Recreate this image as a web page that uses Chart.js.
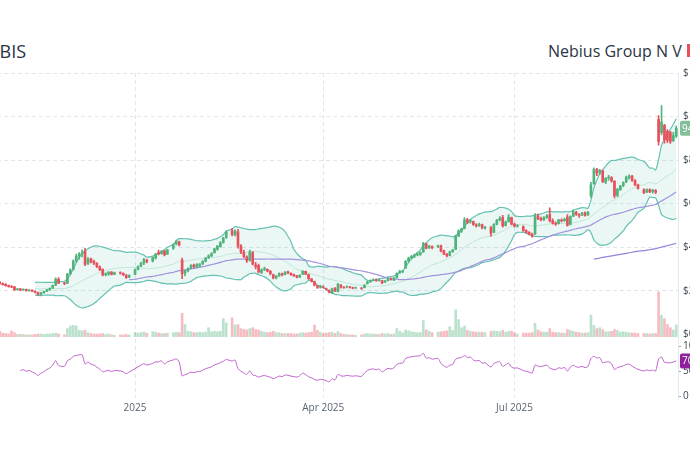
<!DOCTYPE html>
<html>
<head>
<meta charset="utf-8">
<script src="https://cdn.jsdelivr.net/npm/chart.js@4.4.1/dist/chart.umd.min.js"></script>
<style>
  html, body { margin: 0; padding: 0; width: 690px; height: 450px; overflow: hidden; background: #fff; font-family: 'Open Sans', sans-serif; }
  #wrap { position: absolute; left: -17px; top: 62px; width: 737px; height: 360px; }
  .t { position: absolute; white-space: nowrap; line-height: 1; color: #2a3444; }
</style>
</head>
<body>
<div class="t" style="left:-14px; top:42px; font-size:18px;">NBIS</div>
<div class="t" style="left:548px; top:43px; font-size:16px;">Nebius Group N V</div>
<div class="t" style="left:687px; top:44px; font-size:11px; background:#e8505b; color:#fff; padding:1px 3px;">-1.2%</div>
<div id="wrap"><canvas id="c" width="737" height="360"></canvas></div>
<script>
// trading days, grouped by month
const monthKeys = ['2024-10', '2024-11', '2024-12', '2025-01', '2025-02', '2025-03', '2025-04', '2025-05', '2025-06', '2025-07', '2025-08', '2025-09'];
const monthDays = [
    [21, 22, 23, 24, 25, 28, 29, 30, 31],
    [1, 4, 5, 6, 7, 8, 11, 12, 13, 14, 15, 18, 19, 20, 21, 22, 25, 26, 27, 29],
    [2, 3, 4, 5, 6, 9, 10, 11, 12, 13, 16, 17, 18, 19, 20, 23, 24, 26, 27, 30, 31],
    [2, 3, 6, 7, 8, 10, 13, 14, 15, 16, 17, 21, 22, 23, 24, 27, 28, 29, 30, 31],
    [3, 4, 5, 6, 7, 10, 11, 12, 13, 14, 18, 19, 20, 21, 24, 25, 26, 27, 28],
    [3, 4, 5, 6, 7, 10, 11, 12, 13, 14, 17, 18, 19, 20, 21, 24, 25, 26, 27, 28, 31],
    [1, 2, 3, 4, 7, 8, 9, 10, 11, 14, 15, 16, 17, 21, 22, 23, 24, 25, 28, 29, 30],
    [1, 2, 5, 6, 7, 8, 9, 12, 13, 14, 15, 16, 19, 20, 21, 22, 23, 27, 28, 29, 30],
    [2, 3, 4, 5, 6, 9, 10, 11, 12, 13, 16, 17, 18, 20, 23, 24, 25, 26, 27, 30],
    [1, 2, 3, 7, 8, 9, 10, 11, 14, 15, 16, 17, 18, 21, 22, 23, 24, 25, 28, 29, 30, 31],
    [1, 4, 5, 6, 7, 8, 11, 12, 13, 14, 15, 18, 19, 20, 21, 22, 25, 26, 27, 28, 29],
    [2, 3, 4, 5, 8, 9, 10, 11, 12, 15, 16, 17]
];

const opens = [
    20.5, 20.0, 19.2, 18.9, 19.9, 21.2, 22.8, 23.9, 23.3,
    22.9, 22.3, 21.9, 21.8, 20.5, 20.8, 20.3, 20.6, 20.0, 20.3, 19.7, 19.1, 18.3, 19.0, 19.7, 20.4, 21.2, 22.5, 25.2, 23.5,
    23.4, 27.8, 29.8, 33.8, 36.0, 37.0, 38.2, 32.5, 34.6, 33.5, 32.6, 31.0, 29.8, 27.3, 27.6, 28.5, 27.5, 28.3, 28.0, 27.2, 26.2,
    27.5, 29.8, 31.2, 32.8, 34.0, 33.5, 35.0, 37.5, 37.0, 38.2, 36.8, 39.5, 41.5, 42.4, 34.0, 28.0, 29.2, 30.4, 31.8, 31.0,
    31.6, 32.4, 33.5, 35.2, 36.0, 37.5, 39.0, 40.2, 42.2, 44.5, 47.5, 45.6, 47.0, 40.5, 37.6, 35.4, 34.0, 37.5, 31.8,
    31.5, 28.4, 29.8, 29.8, 29.0, 27.4, 25.8, 26.8, 27.8, 27.4, 28.6, 28.0, 27.4, 26.8, 26.2, 27.6, 28.9, 27.4, 25.4, 24.2, 22.2,
    21.6, 21.8, 21.0, 20.2, 18.8, 21.2, 19.6, 22.6, 21.5, 21.8, 21.8, 21.4, 21.2, 21.2, 21.4, 23.2, 24.0, 24.9, 25.0, 24.6, 24.6,
    23.9, 24.6, 25.4, 24.8, 26.0, 28.2, 28.8, 30.5, 33.6, 35.0, 35.8, 36.4, 36.6, 37.8, 41.5, 39.6, 40.2, 40.2, 40.6, 38.4, 36.8,
    36.2, 37.9, 39.0, 45.2, 47.4, 48.6, 52.6, 51.6, 51.8, 50.2, 50.0, 50.4, 48.8, 49.2, 46.8, 50.6, 52.4, 53.6, 50.0, 51.8,
    53.6, 50.6, 49.6, 49.5, 47.6, 46.8, 46.0, 46.0, 54.4, 53.2, 52.6, 53.6, 55.0, 52.2, 51.0, 50.8, 52.4, 52.2, 53.8, 50.4, 54.2, 56.0,
    54.8, 54.8, 55.8, 54.8, 63.5, 69.2, 75.8, 74.2, 75.0, 70.0, 71.8, 72.0, 70.2, 63.8, 66.4, 68.2, 70.0, 72.0, 72.6, 70.6, 68.6,
    66.4, 65.2, 66.4, 65.6, 66.0, 98.6, 92.6, 96.0, 93.2, 92.6, 89.0, 91.0
];
const highs = [
    21.0, 20.4, 19.6, 20.0, 21.3, 22.8, 24.2, 24.3, 23.6,
    23.2, 22.6, 22.3, 22.0, 21.0, 21.0, 20.9, 20.7, 20.5, 20.4, 19.9, 19.3, 19.2, 19.8, 20.6, 21.3, 22.6, 25.9, 26.0, 24.0,
    28.0, 30.0, 34.2, 36.8, 37.5, 38.8, 39.4, 35.2, 35.0, 34.0, 32.9, 31.4, 30.0, 28.2, 28.8, 28.8, 28.5, 28.6, 28.2, 27.4, 27.3,
    30.0, 31.4, 33.0, 34.8, 34.5, 35.5, 37.2, 38.6, 38.4, 38.5, 39.0, 41.5, 43.2, 42.8, 35.0, 29.5, 30.5, 32.0, 32.2, 32.4,
    32.5, 33.8, 35.2, 36.5, 37.5, 39.5, 40.8, 42.5, 44.5, 47.5, 48.6, 48.0, 48.2, 41.2, 38.6, 36.0, 38.6, 37.9, 33.0,
    32.2, 30.0, 30.8, 30.0, 29.2, 27.6, 27.0, 28.2, 28.1, 28.8, 29.0, 28.2, 27.6, 27.0, 27.4, 29.2, 29.0, 27.6, 25.6, 24.4, 22.4,
    22.4, 22.2, 21.2, 20.4, 21.2, 21.4, 23.4, 22.8, 21.9, 22.2, 22.0, 21.6, 21.6, 21.4, 22.8, 24.4, 25.0, 25.4, 25.4, 25.2, 24.8,
    24.8, 25.8, 25.8, 26.0, 28.2, 29.3, 29.4, 33.8, 35.4, 36.2, 36.8, 37.4, 37.8, 42.2, 41.8, 40.8, 40.6, 41.0, 41.0, 38.6, 37.2,
    38.2, 39.0, 45.5, 48.0, 48.8, 53.6, 53.2, 52.8, 52.0, 50.8, 51.0, 50.6, 49.6, 49.4, 50.8, 52.8, 54.0, 54.6, 52.0, 55.0,
    53.8, 51.0, 50.4, 49.8, 48.0, 47.2, 46.4, 55.4, 55.2, 53.8, 54.0, 55.0, 58.0, 53.0, 51.6, 52.8, 53.0, 53.4, 55.0, 54.4, 57.0, 56.4,
    55.4, 56.0, 56.2, 56.4, 69.8, 76.4, 76.2, 75.8, 75.4, 72.0, 73.0, 72.4, 70.6, 67.0, 68.4, 70.0, 72.6, 73.2, 73.0, 71.0, 69.0,
    66.8, 66.8, 66.8, 66.6, 66.4, 100.4, 105.0, 96.4, 94.0, 93.2, 92.8, 95.6
];
const lows = [
    19.6, 18.9, 18.4, 18.7, 19.7, 21.0, 22.5, 23.0, 22.5,
    22.1, 21.6, 21.4, 20.1, 20.2, 20.0, 20.1, 19.8, 19.8, 19.5, 19.0, 17.9, 18.1, 18.8, 19.5, 20.2, 21.0, 22.3, 23.2, 22.8,
    23.2, 27.2, 29.5, 33.0, 34.5, 35.5, 31.5, 32.0, 32.8, 32.0, 30.6, 29.2, 26.8, 26.8, 27.0, 27.2, 27.3, 27.6, 26.9, 25.6, 26.0,
    27.2, 29.5, 31.0, 32.0, 32.8, 33.2, 34.5, 36.4, 36.8, 36.0, 36.6, 39.0, 41.0, 40.6, 25.5, 26.8, 28.6, 30.0, 30.5, 30.6,
    30.8, 32.0, 33.2, 34.8, 35.6, 37.2, 38.6, 40.0, 41.8, 44.0, 45.2, 45.2, 39.5, 37.0, 35.2, 33.0, 33.6, 31.8, 30.0,
    28.2, 27.8, 29.2, 28.6, 27.2, 25.4, 25.4, 26.5, 26.8, 27.2, 27.8, 27.0, 26.5, 25.9, 26.0, 27.4, 27.3, 25.2, 24.0, 22.2, 21.0,
    21.2, 21.2, 20.2, 19.0, 18.6, 19.6, 19.4, 21.2, 21.0, 21.3, 21.2, 20.8, 21.0, 20.6, 21.3, 23.0, 23.8, 24.5, 24.2, 24.4, 23.2,
    23.8, 24.5, 24.8, 24.6, 25.9, 28.0, 28.3, 30.2, 33.2, 34.6, 35.2, 36.0, 36.2, 37.6, 39.2, 39.4, 39.2, 39.8, 37.8, 36.5, 35.5,
    36.0, 37.6, 38.8, 44.8, 46.8, 48.4, 50.8, 51.0, 50.0, 49.2, 49.5, 48.4, 48.2, 45.0, 46.6, 50.2, 52.0, 49.2, 49.6, 51.5,
    50.2, 49.2, 49.2, 47.2, 46.4, 45.6, 44.6, 45.8, 52.6, 52.0, 52.2, 53.2, 51.6, 50.6, 50.0, 50.6, 51.6, 51.8, 49.6, 50.2, 54.0, 54.6,
    53.6, 54.4, 54.2, 54.6, 62.8, 68.8, 72.8, 73.4, 69.6, 69.2, 70.8, 69.8, 62.6, 63.2, 66.0, 67.8, 69.6, 71.2, 70.2, 68.2, 66.6,
    64.6, 65.0, 65.0, 64.8, 64.6, 86.8, 91.6, 87.8, 88.0, 87.6, 88.4, 90.4
];
const closes = [
    20.0, 19.2, 18.8, 19.8, 21.0, 22.6, 23.9, 23.3, 22.8,
    22.3, 21.8, 21.6, 20.4, 20.8, 20.2, 20.6, 20.0, 20.3, 19.7, 19.2, 18.3, 19.0, 19.6, 20.4, 21.0, 22.4, 25.3, 23.5, 23.2,
    27.6, 29.6, 33.6, 35.8, 36.8, 37.4, 32.2, 34.6, 33.2, 32.6, 31.0, 29.6, 27.2, 27.8, 28.5, 27.5, 28.3, 28.0, 27.3, 26.0, 27.0,
    29.6, 31.0, 32.6, 34.2, 33.4, 35.2, 36.8, 36.9, 38.0, 36.4, 38.7, 41.2, 42.6, 41.0, 27.8, 29.0, 30.2, 31.6, 31.0, 32.0,
    32.2, 33.5, 35.0, 36.0, 37.0, 39.2, 40.5, 42.0, 44.0, 46.8, 45.8, 47.4, 40.6, 37.8, 35.6, 33.8, 37.8, 32.2, 31.0,
    28.6, 29.6, 30.2, 29.0, 27.8, 25.8, 26.6, 27.9, 27.2, 28.5, 28.2, 27.3, 26.8, 26.2, 27.1, 28.9, 27.6, 25.5, 24.3, 22.5, 21.5,
    22.0, 21.6, 20.5, 19.3, 20.8, 19.8, 23.0, 21.6, 21.4, 21.8, 21.5, 21.2, 21.4, 21.0, 22.6, 24.0, 24.8, 25.0, 24.6, 25.0, 23.6,
    24.5, 25.5, 25.2, 25.8, 28.0, 28.8, 29.0, 33.5, 35.0, 35.8, 36.5, 37.0, 37.5, 41.6, 39.5, 40.5, 39.8, 40.6, 38.2, 36.8, 36.0,
    37.8, 38.6, 45.0, 47.5, 48.4, 52.5, 51.4, 52.2, 50.4, 49.8, 50.4, 48.8, 49.2, 46.4, 50.5, 52.4, 53.2, 49.8, 51.6, 53.8,
    50.6, 49.6, 49.9, 47.6, 46.8, 46.0, 45.2, 54.0, 53.0, 52.6, 53.6, 54.4, 52.0, 51.0, 50.6, 52.5, 52.0, 52.8, 50.0, 54.0, 56.2, 55.0,
    54.6, 55.6, 54.6, 56.0, 68.6, 75.6, 74.0, 75.2, 70.2, 71.6, 72.2, 70.4, 63.6, 66.6, 68.0, 69.6, 72.2, 72.6, 70.6, 68.6, 67.0,
    65.0, 66.4, 65.4, 66.2, 65.2, 88.6, 97.4, 89.4, 89.0, 88.6, 91.2, 94.6
];
// volume, millions of shares
const volumes = [
    30, 15, 10, 9, 12, 14, 27, 12, 8,
    7, 6, 13, 9, 5, 5, 5, 4, 4, 4, 5, 6, 6, 5, 6, 6, 7, 8, 6, 4,
    18, 24, 25, 24, 14, 13, 14, 9, 7, 6, 6, 6, 7, 5, 6, 4, 3, 4, 4, 5, 4,
    9, 8, 9, 10, 8, 11, 10, 8, 7, 7, 8, 9, 10, 9, 52, 27, 12, 11, 9, 9,
    10, 9, 10, 20, 11, 12, 11, 12, 40, 31, 42, 26, 27, 18, 16, 15, 18, 20, 16,
    15, 12, 10, 9, 10, 12, 9, 9, 7, 7, 7, 7, 6, 6, 8, 9, 8, 9, 10, 26, 14,
    10, 7, 8, 9, 10, 7, 11, 7, 5, 5, 4, 4, 3, 4, 6, 7, 6, 6, 5, 5, 7,
    6, 7, 5, 6, 18, 12, 9, 15, 13, 11, 10, 9, 9, 36, 15, 12, 9, 10, 11, 12, 13,
    22, 14, 60, 38, 20, 24, 14, 12, 11, 10, 10, 10, 9, 12, 13, 12, 11, 14, 10, 12,
    12, 9, 6, 8, 8, 8, 9, 30, 15, 11, 10, 10, 18, 10, 9, 9, 8, 8, 16, 14, 12, 10,
    9, 8, 8, 9, 48, 25, 18, 20, 16, 11, 11, 12, 16, 14, 10, 11, 10, 9, 8, 8, 7,
    7, 7, 6, 7, 7, 100, 48, 40, 27, 20, 15, 26
];

// x axis counts weekdays from 1 Jan 2025 (weekends left out)
const tickDays = [0, 64, 129];
const tickLabels = ['2025', 'Apr 2025', 'Jul 2025'];
const priceTicks = [0, 20, 40, 60, 80, 100, 120];
const rsiTicks = [0, 30, 50, 70, 100];
const barShift = 1; // on this chart each bar sits one weekday left of its date

const upColor = '#4fb37b';
const downColor = '#e8505b';
const gridColor = '#dfe6ee';

const dates = [];
monthKeys.forEach((m, i) => monthDays[i].forEach(d => dates.push(m + '-' + String(d).padStart(2, '0'))));
const origin = Date.UTC(2025, 0, 1);
function weekdayIndex(s) {
    const p = s.split('-').map(Number);
    const days = Math.round((Date.UTC(p[0], p[1] - 1, p[2]) - origin) / 864e5);
    const dir = days >= 0 ? 1 : -1;
    let n = 0;
    for (let k = 0; k !== days; k += dir) {
        const dow = new Date(origin + (dir > 0 ? k : k - 1) * 864e5).getUTCDay();
        if (dow !== 0 && dow !== 6) n += dir;
    }
    return n;
}
const xs = dates.map(s => weekdayIndex(s) - barShift);

// indicators
function sma(arr, n) {
    return arr.map((_, i) => i < n - 1 ? null : arr.slice(i - n + 1, i + 1).reduce((a, b) => a + b, 0) / n);
}
function bands(arr, n, k) {
    const mid = sma(arr, n);
    const up = [], lo = [];
    arr.forEach((_, i) => {
        if (mid[i] === null) { up.push(null); lo.push(null); return; }
        const sd = Math.sqrt(arr.slice(i - n + 1, i + 1).reduce((a, b) => a + (b - mid[i]) * (b - mid[i]), 0) / n);
        up.push(mid[i] + k * sd);
        lo.push(mid[i] - k * sd);
    });
    return { mid, up, lo };
}
function rsi(arr, n) {
    const out = arr.map(() => null);
    let g = 0, l = 0;
    for (let i = 1; i <= n; i++) {
        const d = arr[i] - arr[i - 1];
        if (d > 0) g += d; else l -= d;
    }
    g /= n; l /= n;
    out[n] = 100 - 100 / (1 + g / l);
    for (let i = n + 1; i < arr.length; i++) {
        const d = arr[i] - arr[i - 1];
        g = (g * (n - 1) + Math.max(d, 0)) / n;
        l = (l * (n - 1) + Math.max(-d, 0)) / n;
        out[i] = 100 - 100 / (1 + g / l);
    }
    return out;
}
const pts = arr => arr.map((v, i) => v === null ? null : { x: xs[i], y: v }).filter(Boolean);

const bb = bands(closes, 20, 2);
const sma50 = sma(closes, 50);
const sma200 = sma(closes, 200);
const rsi14 = rsi(closes, 14);
const candleColors = closes.map((c, i) => c >= opens[i] ? upColor : downColor);
const volColors = closes.map((c, i) => c >= opens[i] ? 'rgba(79,179,123,0.38)' : 'rgba(232,80,91,0.38)');

const lastClose = closes[closes.length - 1];
const lastRsi = rsi14[rsi14.length - 1];

const badges = {
    id: 'badges',
    afterDraw(chart) {
        const ctx = chart.ctx;
        const a = chart.chartArea;
        function badge(y, text, color) {
            ctx.save();
            ctx.fillStyle = color;
            ctx.beginPath();
            ctx.roundRect(a.right + 2, y - 7.5, 44, 15, 2);
            ctx.fill();
            ctx.fillStyle = '#fff';
            ctx.font = '10px "Open Sans", sans-serif';
            ctx.textBaseline = 'middle';
            ctx.fillText(text, a.right + 4, y + 0.5);
            ctx.restore();
        }
        badge(chart.scales.y.getPixelForValue(lastClose), lastClose.toFixed(2), '#85bf99');
        badge(chart.scales.yRsi.getPixelForValue(lastRsi), lastRsi.toFixed(2), '#8e1f9e');
    }
};

const lineDs = (data, color, width, axis, order) => ({
    type: 'line', data, borderColor: color, borderWidth: width, pointRadius: 0,
    tension: 0.3, fill: false, yAxisID: axis, order
});

new Chart(document.getElementById('c'), {
    data: {
        datasets: [
            {
                type: 'bar', yAxisID: 'y', order: 2, grouped: false, barThickness: 1,
                data: xs.map((x, i) => ({ x, y: [lows[i], highs[i]] })),
                backgroundColor: candleColors
            },
            {
                type: 'bar', yAxisID: 'y', order: 1, grouped: false, barThickness: 2,
                data: xs.map((x, i) => ({ x, y: [opens[i], closes[i]] })),
                backgroundColor: candleColors
            },
            {
                type: 'bar', yAxisID: 'yVol', order: 9, grouped: false, barThickness: 2,
                data: xs.map((x, i) => ({ x, y: volumes[i] })),
                backgroundColor: volColors
            },
            Object.assign(lineDs(pts(bb.up), '#66c1b2', 1.2, 'y', 8), { fill: '+1', backgroundColor: 'rgba(102,193,178,0.13)' }),
            lineDs(pts(bb.lo), '#66c1b2', 1.2, 'y', 8),
            lineDs(pts(bb.mid), '#bfe6d6', 1, 'y', 7),
            lineDs(pts(sma50), '#a193de', 1.2, 'y', 6),
            lineDs(pts(sma200), '#8f86da', 1.2, 'y', 6),
            lineDs(pts(rsi14), '#bf62cc', 1, 'yRsi', 5)
        ]
    },
    options: {
        responsive: false,
        animation: false,
        layout: { padding: { top: 10, left: 0, right: 0, bottom: 0 } },
        plugins: { legend: { display: false }, tooltip: { enabled: false } },
        scales: {
            x: {
                type: 'linear', min: -51.7, max: 184.6, offset: false,
                afterBuildTicks: s => { s.ticks = tickDays.map(v => ({ value: v })); },
                afterFit: s => { s.height = 24; s.paddingLeft = 0; s.paddingRight = 0; },
                ticks: {
                    callback: v => tickLabels[tickDays.indexOf(v)],
                    font: { size: 10, family: "'Open Sans', sans-serif" }, color: '#596371',
                    maxRotation: 0, padding: 4, autoSkip: false
                },
                grid: { color: gridColor, drawTicks: false, offset: false },
                border: { display: false, dash: [4, 3] }
            },
            y: {
                position: 'right', stack: 'panes', stackWeight: 266, min: -1.83, max: 120,
                afterBuildTicks: s => { s.ticks = priceTicks.map(v => ({ value: v })); },
                afterFit: s => { s.width = 42; },
                ticks: {
                    callback: v => '$' + v,
                    font: { size: 10, family: "'Open Sans', sans-serif" }, color: '#3f4856', padding: 5
                },
                grid: { drawTicks: false, color: c => c.tick && c.tick.value === 0 ? 'rgba(0,0,0,0)' : gridColor },
                border: { display: true, color: '#e3e8ee', dash: [4, 3] }
            },
            yRsi: {
                position: 'right', stack: 'panes', stackWeight: 60, min: -4, max: 116,
                afterBuildTicks: s => { s.ticks = rsiTicks.map(v => ({ value: v })); },
                afterFit: s => { s.width = 42; },
                ticks: {
                    callback: v => (v === 0 || v === 50 || v === 100) ? String(v) : '',
                    font: { size: 10, family: "'Open Sans', sans-serif" }, color: '#3f4856', padding: 2
                },
                grid: {
                    tickLength: 3,
                    color: c => c.tick && (c.tick.value === 30 || c.tick.value === 70) ? gridColor : 'rgba(0,0,0,0)',
                    tickColor: c => c.tick && (c.tick.value === 30 || c.tick.value === 70) ? 'rgba(0,0,0,0)' : '#9aa4b0'
                },
                border: { display: true, color: '#e3e8ee', dash: [4, 3] }
            },
            yVol: { display: false, position: 'left', min: -136.7, max: 587.8 }
        }
    },
    plugins: [badges]
});
</script>
</body>
</html>
